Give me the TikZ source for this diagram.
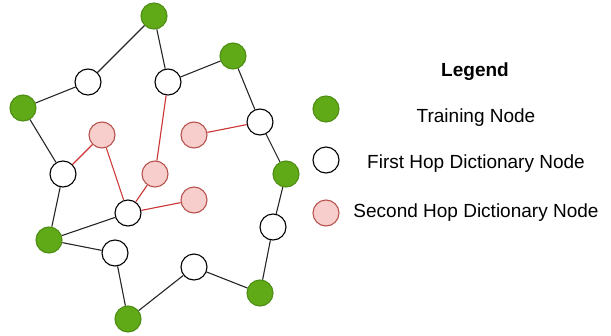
\documentclass[tikz,border=0pt]{standalone}
\usepackage{fontspec}
\setmainfont{Liberation Sans}
\usetikzlibrary{calc,positioning}

\definecolor{trainfill}{HTML}{60A917}
\definecolor{traindraw}{HTML}{4F8E14}
\definecolor{hopfill}{HTML}{F8CECC}
\definecolor{hopdraw}{HTML}{B85450}
\definecolor{hopline}{HTML}{CC3333}

\begin{document}
\begin{tikzpicture}[
  x=1pt,y=-1pt,
  every node/.style={font=\fontsize{19}{23}\selectfont},
  vert/.style={circle,line width=1.1pt,minimum size=26pt,inner sep=0pt},
  train/.style={vert,draw=traindraw,fill=trainfill},
  firsthop/.style={vert,draw=black,fill=white},
  secondhop/.style={vert,draw=hopdraw,fill=hopfill},
  link/.style={line width=1.1pt,black!85},
  redlink/.style={line width=1.1pt,hopline}
  ]
  \useasboundingbox (0,0) rectangle (611,335);

  % training nodes
  \node[train] (tr1) at (154,16) {};
  \node[train] (tr2) at (233,56) {};
  \node[train] (tr3) at (23,108) {};
  \node[train] (tr4) at (286,174) {};
  \node[train] (tr5) at (49,240) {};
  \node[train] (tr6) at (128,319) {};
  \node[train] (tr7) at (260,293) {};

  % first hop
  \node[firsthop] (fh1) at (88,82) {};
  \node[firsthop] (fh2) at (168,82) {};
  \node[firsthop] (fh3) at (260,122) {};
  \node[firsthop] (fh4) at (63,174) {};
  \node[firsthop] (fh5) at (128,213) {};
  \node[firsthop] (fh6) at (115,253) {};
  \node[firsthop] (fh7) at (194,267) {};
  \node[firsthop] (fh8) at (273,227) {};

  % second hop
  \node[secondhop] (sh1) at (102,135) {};
  \node[secondhop] (sh2) at (194,135) {};
  \node[secondhop] (sh3) at (155,174) {};
  \node[secondhop] (sh4) at (194,200) {};

  \foreach \a/\b in {tr1/fh1,tr1/fh2,fh1/tr3,fh2/tr2,tr2/fh3,fh3/tr4,
    tr3/fh4,fh4/tr5,tr5/fh5,tr5/fh6,fh6/tr6,tr6/fh7,fh7/tr7,tr7/fh8,fh8/tr4}
    \draw[link] (\a) -- (\b);
  \foreach \a/\b in {fh4/sh1,sh1/fh5,fh2/sh3,sh3/fh5,fh3/sh2,fh5/sh4}
    \draw[redlink] (\a) -- (\b);

  % legend
  \node[font=\fontsize{19}{23}\selectfont\bfseries] (leg) at (475,72) {Legend};
  \node[train] (legtr) at (326,109) {};
  \node[firsthop] (legfh) at (326,160) {};
  \node[secondhop] (legsh) at (326,213) {};
  \node (legtrtxt) at (476,118) {Training Node};
  \node (legfhtxt) at (476,164) {First Hop Dictionary Node};
  \node (legshtxt) at (476,213) {Second Hop Dictionary Node};

\end{tikzpicture}
\end{document}
